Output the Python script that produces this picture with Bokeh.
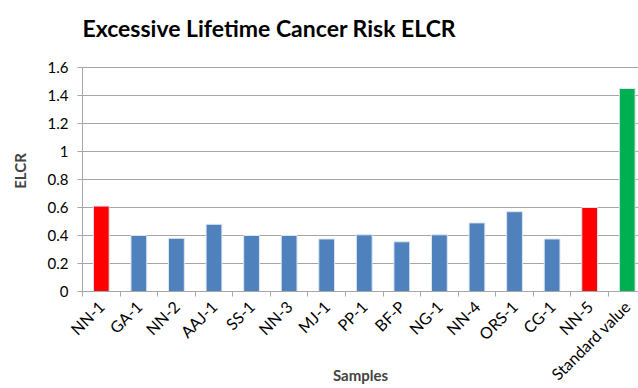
import math
from bokeh.plotting import figure
from bokeh.models import Range1d, FixedTicker, NumeralTickFormatter, Title
from bokeh.embed import file_html
from bokeh.resources import INLINE

# ELCR per sample
samples = ["NN-1", "GA-1", "NN-2", "AAJ-1", "SS-1", "NN-3", "MJ-1", "PP-1",
           "BF-P", "NG-1", "NN-4", "ORS-1", "CG-1", "NN-5", "Standard value"]
elcr = [0.61, 0.40, 0.38, 0.48, 0.40, 0.40, 0.375, 0.405,
        0.355, 0.405, 0.49, 0.57, 0.375, 0.60, 1.45]
bar_colors = ["#FF0000"] + ["#4F81BD"] * 12 + ["#FF0000", "#00B050"]
y_ticks = [0, 0.2, 0.4, 0.6, 0.8, 1.0, 1.2, 1.4, 1.6]

centers = [i + 0.5 for i in range(len(samples))]
bounds = list(range(len(samples) + 1))

FONT = "Lato"
GRID = "#A6A6A6"

# a little headroom above 1.6 leaves space for the title; the axis line stops at 1.6
p = figure(width=638, height=388, output_backend="svg", toolbar_location=None,
           x_range=Range1d(0, 14.8), y_range=Range1d(0, 1.7214),
           min_border_left=82, min_border_right=0, min_border_top=50,
           min_border_bottom=97)
p.title = Title(text="Excessive Lifetime Cancer Risk ELCR", align="left",
                text_font=FONT, text_font_size="23px", text_font_style="bold",
                text_color="black", offset=0, standoff=18)
p.outline_line_color = None
p.background_fill_color = "white"
p.border_fill_color = "white"

p.vbar(x=centers, top=elcr, width=0.42, fill_color=bar_colors,
       line_color="#DCE6F2", line_width=1)

# x axis: tick marks between categories, labels at category centres
p.xaxis.ticker = FixedTicker(ticks=centers, minor_ticks=bounds)
p.xaxis.major_label_overrides = {c: s for c, s in zip(centers, samples)}
p.xaxis.major_tick_line_color = None
p.xaxis.minor_tick_out = 5
p.xaxis.minor_tick_in = 0
p.xaxis.minor_tick_line_color = GRID
p.xaxis.axis_line_color = GRID
p.xaxis.major_label_orientation = math.pi / 4
p.xaxis.major_label_text_font = FONT
p.xaxis.major_label_text_font_size = "16px"
p.xaxis.major_label_text_color = "black"
p.xaxis.major_label_standoff = 6
p.xaxis.axis_label = "Samples"
p.xaxis.axis_label_text_font = FONT
p.xaxis.axis_label_text_font_size = "15px"
p.xaxis.axis_label_text_font_style = "bold"
p.xaxis.axis_label_standoff = -27

# y axis
p.yaxis.ticker = FixedTicker(ticks=y_ticks)
p.yaxis.bounds = (0, 1.6)
p.yaxis.formatter = NumeralTickFormatter(format="0.[0]")
p.yaxis.major_tick_out = 5
p.yaxis.major_tick_in = 0
p.yaxis.minor_tick_line_color = None
p.yaxis.major_tick_line_color = GRID
p.yaxis.axis_line_color = GRID
p.yaxis.major_label_text_font = FONT
p.yaxis.major_label_text_font_size = "15px"
p.yaxis.major_label_text_color = "black"
p.yaxis.major_label_standoff = 9
p.yaxis.axis_label = "ELCR"
p.yaxis.axis_label_text_font = FONT
p.yaxis.axis_label_text_font_size = "15px"
p.yaxis.axis_label_text_font_style = "bold"
p.yaxis.axis_label_standoff = 16

p.xgrid.grid_line_color = None
p.ygrid.grid_line_color = GRID
p.ygrid.ticker = FixedTicker(ticks=y_ticks)

open("out.html", "w").write(file_html(p, INLINE))
